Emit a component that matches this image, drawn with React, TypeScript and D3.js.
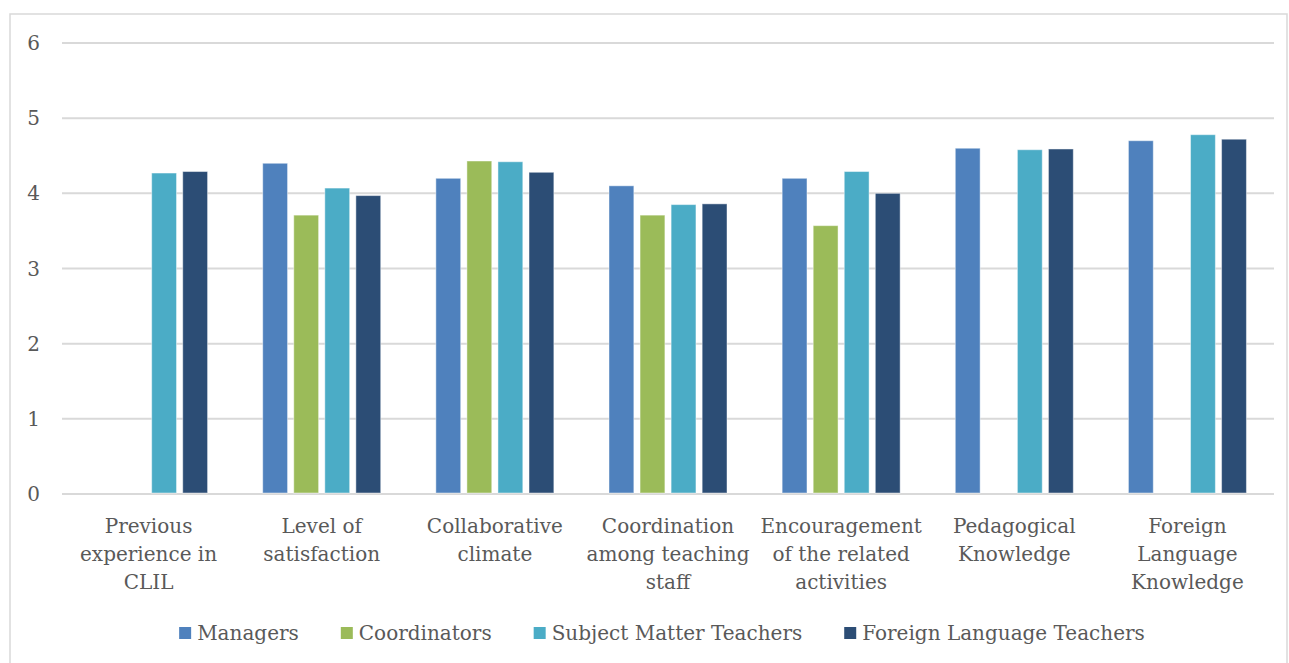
import React, { useEffect, useRef } from "react";
import * as d3 from "d3";

const categories: string[][] = [
  ["Previous", "experience in", "CLIL"],
  ["Level of", "satisfaction"],
  ["Collaborative", "climate"],
  ["Coordination", "among teaching", "staff"],
  ["Encouragement", "of the related", "activities"],
  ["Pedagogical", "Knowledge"],
  ["Foreign", "Language", "Knowledge"],
];
const seriesNames = ["Managers", "Coordinators", "Subject Matter Teachers", "Foreign Language Teachers"];
const seriesColors = ["#4F81BD", "#9BBB59", "#4BACC6", "#2C4D75"];
const managers: (number | null)[] = [null, 4.4, 4.2, 4.1, 4.2, 4.6, 4.7];
const coordinators: (number | null)[] = [null, 3.71, 4.43, 3.71, 3.57, null, null];
const subjectTeachers: (number | null)[] = [4.27, 4.07, 4.42, 3.85, 4.29, 4.58, 4.78];
const languageTeachers: (number | null)[] = [4.29, 3.97, 4.28, 3.86, 4.0, 4.59, 4.72];
const yTicks = [0, 1, 2, 3, 4, 5, 6];

const W = 1289;
const H = 663;
const FONT = "'DejaVu Serif', serif";

export default function App() {
  const ref = useRef<SVGSVGElement | null>(null);
  useEffect(() => {
    const svg = d3.select(ref.current);
    svg.selectAll("*").remove();
    const values = [managers, coordinators, subjectTeachers, languageTeachers];
    const left = 62, right = 1274, top = 43, bottom = 494;

    svg.append("rect").attr("x", 10).attr("y", 14).attr("width", 1277).attr("height", 700)
      .attr("fill", "white").attr("stroke", "#d9d9d9").attr("stroke-width", 1.5);

    const y = d3.scaleLinear().domain([0, 6]).range([bottom, top]);
    const x0 = d3.scaleBand<number>().domain(d3.range(categories.length)).range([left, right]).padding(0);
    const x1 = d3.scaleBand<number>().domain(d3.range(4)).range([-59, 59]).paddingInner(0.2).paddingOuter(0);

    const g = svg.append("g");
    yTicks.forEach((t) => {
      g.append("line").attr("x1", left).attr("x2", right).attr("y1", y(t)).attr("y2", y(t))
        .attr("stroke", "#d9d9d9").attr("stroke-width", 2);
      g.append("text").attr("x", 40).attr("y", y(t)).attr("text-anchor", "end")
        .attr("dominant-baseline", "central").attr("font-family", FONT).attr("font-size", 20)
        .attr("fill", "#595959").text(String(t));
    });

    categories.forEach((lines, i) => {
      const cx = (x0(i) as number) + x0.bandwidth() / 2;
      values.forEach((arr, s) => {
        const v = arr[i];
        if (v == null) return;
        g.append("rect").attr("x", cx + (x1(s) as number)).attr("width", x1.bandwidth())
          .attr("y", y(v)).attr("height", y(0) - y(v) - 1).attr("fill", seriesColors[s])
          .attr("stroke", "rgba(255,255,255,0.45)").attr("stroke-width", 1);
      });
      const t = g.append("text").attr("text-anchor", "middle").attr("font-family", FONT)
        .attr("font-size", 20).attr("fill", "#595959");
      lines.forEach((ln, k) => {
        t.append("tspan").attr("x", cx).attr("y", 533 + k * 28).text(ln);
      });
    });

    // legend
    const lg = svg.append("g");
    const items: { w: number }[] = [];
    const texts = seriesNames.map((n) =>
      lg.append("text").attr("font-family", FONT).attr("font-size", 20).attr("fill", "#595959")
        .attr("dominant-baseline", "central").attr("y", 633).text(n)
    );
    texts.forEach((t) => items.push({ w: (t.node() as SVGTextElement).getComputedTextLength() }));
    const sq = 12, gapSq = 6, gapItem = 42;
    const total = d3.sum(items, (d) => sq + gapSq + d.w) + gapItem * (items.length - 1);
    let cur = 662 - total / 2;
    items.forEach((it, s) => {
      lg.append("rect").attr("x", cur).attr("y", 627).attr("width", sq).attr("height", sq).attr("fill", seriesColors[s]);
      texts[s].attr("x", cur + sq + gapSq);
      cur += sq + gapSq + it.w + gapItem;
    });
  }, []);
  return (
    <svg ref={ref} width={W} height={H} style={{ position: "absolute", left: 0, top: 0, display: "block", background: "white" }} />
  );
}
